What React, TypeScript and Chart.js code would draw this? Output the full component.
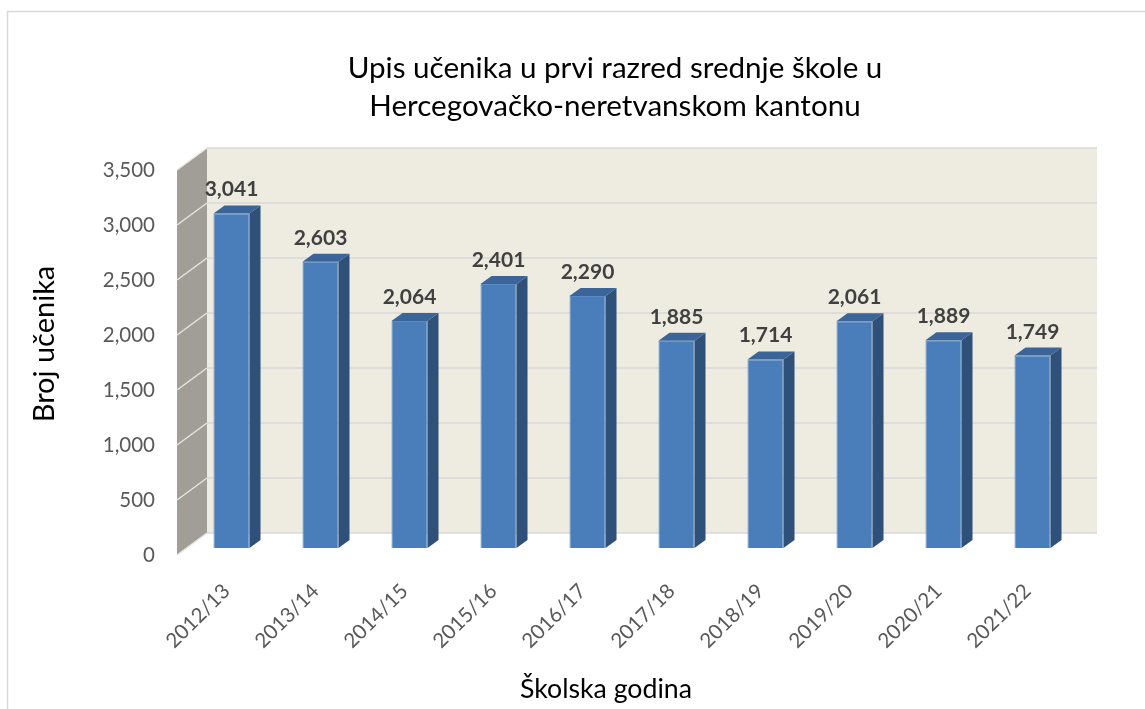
import React, { useEffect, useRef } from "react";
import { Chart, registerables } from "chart.js";

Chart.register(...registerables);

const categories = ["2012/13", "2013/14", "2014/15", "2015/16", "2016/17", "2017/18", "2018/19", "2019/20", "2020/21", "2021/22"];
const enrolments = [3041, 2603, 2064, 2401, 2290, 1885, 1714, 2061, 1889, 1749];
const yMin = 0;
const yMax = 3500;
const yStep = 500;
const titleLines = ["Upis učenika u prvi razred srednje škole u", "Hercegovačko-neretvanskom kantonu"];
const xTitle = "Školska godina";
const yTitle = "Broj učenika";

const FONT = "Lato, 'Open Sans', sans-serif";
const FRONT = { dx: -10, dy: 7 };
const BACK = { dx: 20, dy: -15 };
const BAR_DEPTH = { dx: 11, dy: -8 };

const decorPlugin = {
  id: "decor3d",
  beforeDraw(chart: any) {
    const { ctx, chartArea, scales } = chart;
    const y = scales.y;
    ctx.save();
    ctx.fillStyle = "#ffffff";
    ctx.fillRect(0, 0, chart.width, chart.height);
    // outer border
    ctx.strokeStyle = "#d9d9d9";
    ctx.lineWidth = 1.5;
    ctx.beginPath();
    ctx.moveTo(7.5, chart.height);
    ctx.lineTo(7.5, 11.5);
    ctx.lineTo(chart.width, 11.5);
    ctx.stroke();

    const yTop = y.getPixelForValue(yMax);
    const yBot = y.getPixelForValue(yMin);
    const bl = chartArea.left + BACK.dx;
    const br = chartArea.right + BACK.dx;
    const fl = chartArea.left + FRONT.dx;
    // back wall
    ctx.fillStyle = "#eeece1";
    ctx.fillRect(bl, yTop + BACK.dy, br - bl, yBot - yTop);
    // side wall
    ctx.fillStyle = "#a09e96";
    ctx.beginPath();
    ctx.moveTo(fl, yTop + FRONT.dy);
    ctx.lineTo(bl, yTop + BACK.dy);
    ctx.lineTo(bl, yBot + BACK.dy);
    ctx.lineTo(fl, yBot + FRONT.dy);
    ctx.closePath();
    ctx.fill();
    // grid lines
    ctx.lineWidth = 1.5;
    for (let v = yMin; v <= yMax; v += yStep) {
      const py = y.getPixelForValue(v);
      ctx.strokeStyle = "#d9d9d9";
      ctx.beginPath();
      ctx.moveTo(bl, py + BACK.dy);
      ctx.lineTo(br, py + BACK.dy);
      ctx.stroke();
      ctx.strokeStyle = "#e4e4e0";
      ctx.beginPath();
      ctx.moveTo(fl, py + FRONT.dy);
      ctx.lineTo(bl, py + BACK.dy);
      ctx.stroke();
    }
    ctx.restore();
  },
  afterDatasetsDraw(chart: any) {
    const { ctx } = chart;
    const meta = chart.getDatasetMeta(0);
    ctx.save();
    meta.data.forEach((bar: any, i: number) => {
      const p = bar.getProps(["x", "y", "base", "width"], true);
      const l = p.x - p.width / 2;
      const r = p.x + p.width / 2;
      // side face
      ctx.fillStyle = "#2f5079";
      ctx.beginPath();
      ctx.moveTo(r, p.y);
      ctx.lineTo(r + BAR_DEPTH.dx, p.y + BAR_DEPTH.dy);
      ctx.lineTo(r + BAR_DEPTH.dx, p.base + BAR_DEPTH.dy);
      ctx.lineTo(r, p.base);
      ctx.closePath();
      ctx.fill();
      // top face
      ctx.fillStyle = "#3b6598";
      ctx.beginPath();
      ctx.moveTo(l, p.y);
      ctx.lineTo(r, p.y);
      ctx.lineTo(r + BAR_DEPTH.dx, p.y + BAR_DEPTH.dy);
      ctx.lineTo(l + BAR_DEPTH.dx, p.y + BAR_DEPTH.dy);
      ctx.closePath();
      ctx.fill();
      // data label
      ctx.fillStyle = "#404040";
      ctx.font = `bold 21px ${FONT}`;
      ctx.textAlign = "center";
      ctx.textBaseline = "alphabetic";
      ctx.fillText(enrolments[i].toLocaleString("en-US"), p.x, p.y - 17);
    });
    ctx.restore();
  },
  afterDraw(chart: any) {
    const { ctx } = chart;
    ctx.save();
    ctx.fillStyle = "#000000";
    ctx.textAlign = "center";
    ctx.textBaseline = "alphabetic";
    ctx.font = `29.6px ${FONT}`;
    ctx.fillText(titleLines[0], 615, 78);
    ctx.fillText(titleLines[1], 615, 116);
    ctx.font = `26.7px ${FONT}`;
    ctx.fillText(xTitle, 606, 698);
    ctx.font = `29px ${FONT}`;
    ctx.translate(54, 344);
    ctx.rotate(-Math.PI / 2);
    ctx.fillText(yTitle, 0, 0);
    ctx.restore();
  },
};

export default function App() {
  const ref = useRef<HTMLCanvasElement | null>(null);
  useEffect(() => {
    if (!ref.current) return;
    const chart = new Chart(ref.current, {
      type: "bar",
      data: {
        labels: categories,
        datasets: [
          {
            data: enrolments,
            backgroundColor: "#4a7ebb",
            borderColor: "#5a8bc6",
            borderWidth: 1,
            categoryPercentage: 1,
            barPercentage: 0.405,
          },
        ],
      },
      options: {
        responsive: false,
        devicePixelRatio: 1,
        animation: false,
        locale: "en-US",
        layout: { padding: { left: 0, right: 68, top: 163, bottom: 0 } },
        plugins: { legend: { display: false }, title: { display: false }, tooltip: { enabled: false } },
        scales: {
          x: {
            grid: { display: false, drawTicks: false },
            border: { display: false },
            ticks: {
              minRotation: 45,
              maxRotation: 45,
              padding: 31,
              labelOffset: -5,
              color: "#595959",
              font: { family: FONT, size: 20.5 },
            },
            afterFit: (s: any) => {
              s.height = 161;
            },
          },
          y: {
            min: yMin,
            max: yMax,
            grid: { display: false, drawTicks: false },
            border: { display: false },
            ticks: {
              stepSize: yStep,
              padding: 32,
              labelOffset: FRONT.dy,
              color: "#595959",
              font: { family: FONT, size: 20.5 },
            },
            afterFit: (s: any) => {
              s.width = 187;
            },
          },
        },
      },
      plugins: [decorPlugin],
    });
    return () => chart.destroy();
  }, []);
  return (
    <div style={{ position: "fixed", left: 0, top: 0, width: 1145, height: 709, background: "#fff" }}>
      <canvas ref={ref} width={1145} height={709} style={{ display: "block" }} />
    </div>
  );
}
